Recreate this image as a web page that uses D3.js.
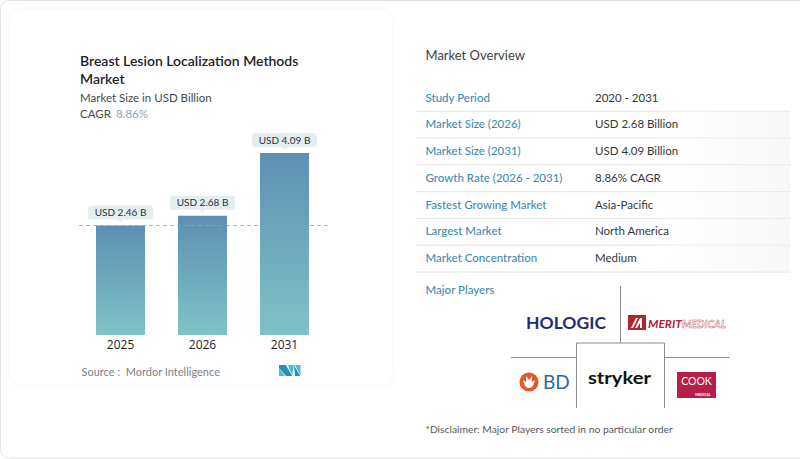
<!DOCTYPE html>
<html>
<head>
<meta charset="utf-8">
<script src="https://cdn.jsdelivr.net/npm/d3@7"></script>
<style>
  html, body { margin: 0; padding: 0; background: #fff; overflow: hidden; }
  svg { display: block; }
  text { font-family: Lato, "Open Sans", sans-serif; }
  .axis text { font-family: "Open Sans", sans-serif; }
</style>
</head>
<body>
<svg id="chart" width="800" height="459"></svg>
<script>
const years = ["2025", "2026", "2031"];
const marketSize = [2.46, 2.68, 4.09];
const barLabels = ["USD 2.46 B", "USD 2.68 B", "USD 4.09 B"];
const titleLines = ["Breast Lesion Localization Methods", "Market"];
const overviewKeys = ["Study Period", "Market Size (2026)", "Market Size (2031)", "Growth Rate (2026 - 2031)", "Fastest Growing Market", "Largest Market", "Market Concentration"];
const overviewValues = ["2020 - 2031", "USD 2.68 Billion", "USD 4.09 Billion", "8.86% CAGR", "Asia-Pacific", "North America", "Medium"];

const svg = d3.select("#chart");
const defs = svg.append("defs");

const barGrad = defs.append("linearGradient").attr("id", "barGrad")
    .attr("x1", 0).attr("y1", 0).attr("x2", 0).attr("y2", 1);
barGrad.append("stop").attr("offset", "0%").attr("stop-color", "#5d8fb4");
barGrad.append("stop").attr("offset", "100%").attr("stop-color", "#80c2c6");

const rowGrad = defs.append("linearGradient").attr("id", "rowGrad");
rowGrad.append("stop").attr("offset", "0%").attr("stop-color", "#fff");
rowGrad.append("stop").attr("offset", "100%").attr("stop-color", "#f3f3f3");

const blur = defs.append("filter").attr("id", "cardShadow")
    .attr("x", "-5%").attr("y", "-5%").attr("width", "110%").attr("height", "110%");
blur.append("feDropShadow").attr("dx", 0).attr("dy", 0).attr("stdDeviation", 3)
    .attr("flood-color", "#000").attr("flood-opacity", 0.05);

// outer frame and left card
svg.append("rect").attr("x", 0.5).attr("y", 0.5).attr("width", 810).attr("height", 457.5)
    .attr("rx", 9).attr("fill", "#fff").attr("stroke", "#e2e2e2");
svg.append("rect").attr("x", 10.5).attr("y", 10).attr("width", 381).attr("height", 375)
    .attr("rx", 12).attr("fill", "#fff").attr("filter", "url(#cardShadow)");

// title block
svg.selectAll("text.title").data(titleLines).join("text")
    .attr("class", "title")
    .attr("x", 80)
    .attr("y", (d, i) => 66 + i * 18)
    .attr("font-size", 14)
    .attr("font-weight", 600)
    .attr("fill", "#1f2328")
    .text(d => d);
svg.append("text").attr("x", 80).attr("y", 102).attr("font-size", 11.5).attr("fill", "#45494d")
    .text("Market Size in USD Billion");
const cagr = svg.append("text").attr("x", 80).attr("y", 118).attr("font-size", 11.5).attr("fill", "#45494d");
cagr.append("tspan").text("CAGR");
cagr.append("tspan").attr("x", 116).attr("fill", "#86a8c2").text("8.86%");

// bars
const x = d3.scaleBand().domain(years).range([96, 309]).paddingInner(0.402).paddingOuter(0);
const y = d3.scaleLinear().domain([0, d3.max(marketSize)]).range([335, 153]);

svg.selectAll("rect.bar").data(marketSize).join("rect")
    .attr("class", "bar")
    .attr("x", (d, i) => x(years[i]))
    .attr("y", d => y(d))
    .attr("width", x.bandwidth())
    .attr("height", d => y(0) - y(d))
    .attr("fill", "url(#barGrad)");

// dashed line at the first bar's value
svg.append("line")
    .attr("x1", 79).attr("x2", 328)
    .attr("y1", y(marketSize[0])).attr("y2", y(marketSize[0]))
    .attr("stroke", "#8fa5ad").attr("stroke-width", 0.8).attr("stroke-dasharray", "4 3");

// value pills
const pills = svg.selectAll("g.pill").data(marketSize).join("g")
    .attr("class", "pill")
    .attr("transform", (d, i) => `translate(${x(years[i]) + x.bandwidth() / 2},${y(d) - 6})`);
pills.append("rect").attr("x", -32.5).attr("y", -14).attr("width", 65).attr("height", 14)
    .attr("rx", 3).attr("fill", "#e4edef");
pills.append("path").attr("d", "M-3,0L0,3L3,0Z").attr("fill", "#e4edef");
pills.append("text").attr("y", -3.3).attr("text-anchor", "middle")
    .attr("font-size", 10).attr("fill", "#2b3236")
    .text((d, i) => barLabels[i]);

const axis = svg.append("g").attr("class", "axis")
    .attr("transform", "translate(0,335)")
    .call(d3.axisBottom(x).tickSize(0).tickPadding(5));
axis.select(".domain").remove();
axis.selectAll("text").attr("font-size", 12).attr("fill", "#222");

// source and mordor mark
svg.append("text").attr("x", 81.5).attr("y", 376).attr("font-size", 11).attr("fill", "#7d8184")
    .attr("xml:space", "preserve").text("Source :  Mordor Intelligence");
const mark = svg.append("g").attr("transform", "translate(279,365)");
mark.append("path").attr("d", "M0,0H7L13,11H7L0,3Z").attr("fill", "#2a8fb8");
mark.append("path").attr("d", "M0,3L6,11H0Z").attr("fill", "#45c0d2");
mark.append("path").attr("d", "M13,11L15,0H9Z").attr("fill", "#45c0d2");
mark.append("path").attr("d", "M15,0L21,11H16Z").attr("fill", "#2a8fb8");
mark.append("path").attr("d", "M16,0H21.5V11Z").attr("fill", "#45c0d2");

// overview table
svg.append("text").attr("x", 425.5).attr("y", 60).attr("font-size", 13).attr("fill", "#3c4043")
    .text("Market Overview");

const rowY = d3.scaleBand().domain(overviewKeys).range([84.5, 272]);

const rows = svg.selectAll("g.row").data(overviewKeys).join("g")
    .attr("class", "row")
    .attr("transform", d => `translate(0,${rowY(d)})`);
rows.filter((d, i) => i > 0).append("rect")
    .attr("x", 660).attr("y", 0).attr("width", 130).attr("height", rowY.bandwidth() - 1)
    .attr("fill", "url(#rowGrad)").attr("opacity", 0.6);
rows.append("line").attr("x1", 416).attr("x2", 790)
    .attr("y1", rowY.bandwidth()).attr("y2", rowY.bandwidth())
    .attr("stroke", "#e3e3e3");
rows.append("text").attr("x", 425.5).attr("y", 17)
    .attr("font-size", 11.5).attr("font-weight", 500).attr("fill", "#3f8db0")
    .text(d => d);
rows.append("text").attr("x", 595).attr("y", 17)
    .attr("font-size", 11.5).attr("fill", "#33373a")
    .text((d, i) => overviewValues[i]);

// major players
svg.append("text").attr("x", 425.5).attr("y", 294).attr("font-size", 11.5)
    .attr("font-weight", 500).attr("fill", "#3f8db0").text("Major Players");

const grid = "M620.5,286V343M511,357.5H576M664,357.5H729.5M576.5,408V343H664.5V408";
svg.append("path").attr("d", grid).attr("fill", "none").attr("stroke", "#8a8a8a").attr("stroke-width", 1);

svg.append("text").attr("x", 526).attr("y", 329).attr("font-size", 17.5).attr("font-weight", 700)
    .attr("font-family", "Liberation Sans").attr("fill", "#1f2d6e").attr("textLength", 80).text("HOLOGIC");

// merit medical
svg.append("rect").attr("x", 628).attr("y", 315).attr("width", 18).attr("height", 15).attr("fill", "#b3242f");
svg.append("path").attr("d", "M631,328L636,318H638L633,328ZM635,328L640,318H642L642,328H640L640,323L637,328Z").attr("fill", "#fff");
svg.append("text").attr("x", 648).attr("y", 328).attr("font-size", 12).attr("font-weight", 700)
    .attr("font-style", "italic").attr("font-family", "Liberation Sans").attr("fill", "#b3242f")
    .attr("textLength", 34).attr("lengthAdjust", "spacingAndGlyphs").text("MERIT");
svg.append("text").attr("x", 682).attr("y", 328).attr("font-size", 12).attr("font-weight", 700)
    .attr("font-style", "italic").attr("font-family", "Liberation Sans").attr("fill", "#fff")
    .attr("stroke", "#c9606a").attr("stroke-width", 0.5)
    .attr("textLength", 44).attr("lengthAdjust", "spacingAndGlyphs").text("MEDICAL");

// bd
svg.append("circle").attr("cx", 529).attr("cy", 382).attr("r", 9.5).attr("fill", "#e5562a");
svg.append("path").attr("d", "M523,380L526,382L526,376L529,380L532,376L532,382L535,380L533,386A5,5 0 0 1 525,386Z").attr("fill", "#fff");
svg.append("text").attr("x", 543).attr("y", 389).attr("font-size", 19).attr("font-family", "Liberation Sans")
    .attr("fill", "#2a6aa5").text("BD");

svg.append("text").attr("x", 588).attr("y", 384).attr("font-size", 17).attr("font-weight", 700)
    .attr("font-family", "Liberation Sans").attr("fill", "#111")
    .attr("textLength", 63).attr("lengthAdjust", "spacingAndGlyphs").text("stryker");

// cook medical
svg.append("rect").attr("x", 677).attr("y", 372).attr("width", 39).attr("height", 26).attr("fill", "#b81f47");
svg.append("text").attr("x", 696.5).attr("y", 385).attr("text-anchor", "middle").attr("font-size", 10.5)
    .attr("font-family", "Liberation Serif").attr("fill", "#fff").text("COOK");
svg.append("text").attr("x", 703).attr("y", 396).attr("text-anchor", "middle").attr("font-size", 3.5)
    .attr("font-weight", 700).attr("font-family", "Liberation Sans").attr("fill", "#fff").text("MEDICAL");

svg.append("text").attr("x", 425.5).attr("y", 433).attr("font-size", 10.3).attr("fill", "#55595c")
    .text("*Disclaimer: Major Players sorted in no particular order");
</script>
</body>
</html>
